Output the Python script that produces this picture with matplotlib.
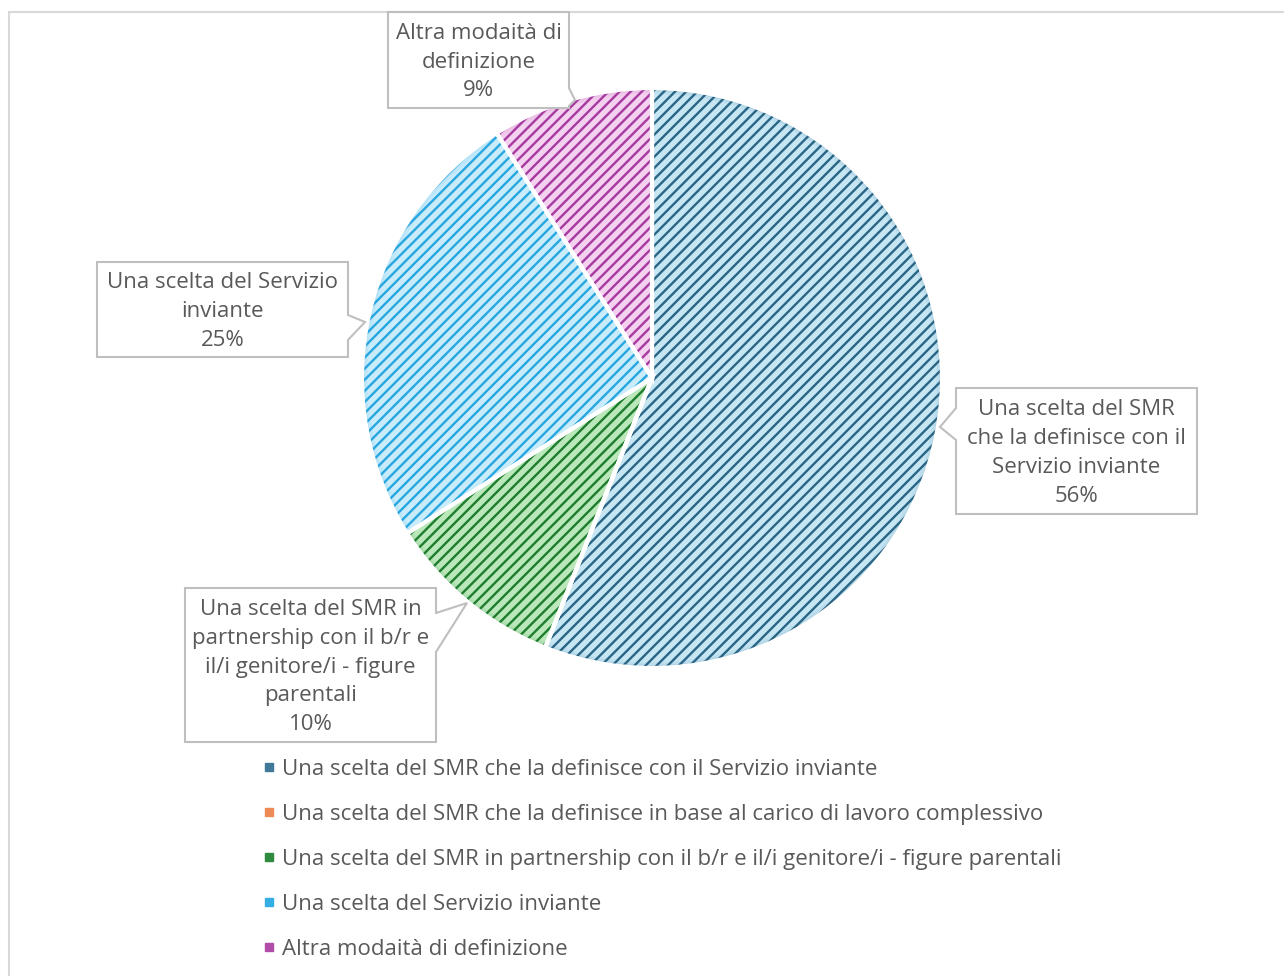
import matplotlib
matplotlib.use("Agg")
import matplotlib.pyplot as plt
from matplotlib.patches import Rectangle, Polygon, Wedge
from matplotlib.lines import Line2D

# ---- data ---------------------------------------------------------------
categories = [
    "Una scelta del SMR che la definisce con il Servizio inviante",
    "Una scelta del SMR che la definisce in base al carico di lavoro complessivo",
    "Una scelta del SMR in partnership con il b/r e il/i genitore/i - figure parentali",
    "Una scelta del Servizio inviante",
    "Altra modaità di definizione",
]
shares = [56, 0, 10, 25, 9]
callout_texts = [
    "Una scelta del SMR\nche la definisce con il\nServizio inviante",
    None,
    "Una scelta del SMR in\npartnership con il b/r e\nil/i genitore/i - figure\nparentali",
    "Una scelta del Servizio\ninviante",
    "Altra modaità di\ndefinizione",
]

# ---- styling ------------------------------------------------------------
face_colors = ["#c6e6f4", "#fbd9c6", "#bae8ba", "#c9ecfb", "#f3d1ef"]
hatch_colors = ["#2a6585", "#e8742f", "#1f7d2f", "#28a6e0", "#a63aa0"]
legend_colors = ["#3f7898", "#ee8a55", "#2e8a3d", "#35aee4", "#b04da9"]
text_color = "#595959"
box_edge = "#bfbfbf"
FONT = "Open Sans"
FS = 16

W, H = 1284, 976
plt.rcParams["hatch.linewidth"] = 1.7
plt.rcParams["font.family"] = [FONT, "DejaVu Sans"]

fig = plt.figure(figsize=(W / 100, H / 100), dpi=100)
ax = fig.add_axes([0, 0, 1, 1])


def py(y):
    """Convert a top-down pixel row into the y-up axis coordinate."""
    return H - y


cx, cy, R = 652, py(378), 290

# chart area frame
ax.add_patch(Rectangle((8.5, py(H + 20)), W + 20, (H + 20) - 11.5,
                       facecolor="white", edgecolor="#d9d9d9", linewidth=1.5,
                       zorder=0))

# hatched fill layer
wedges, _ = ax.pie(shares, startangle=90, counterclock=False,
                   center=(cx, cy), radius=R, colors=face_colors,
                   wedgeprops=dict(linewidth=0))
for w, hc in zip(wedges, hatch_colors):
    w.set_hatch("///")
    w.set_edgecolor(hc)
    w.set_linewidth(0)
    w.set_zorder(2)
    # soft darker rim along the outer edge of each slice
    for k, a in enumerate([0.22, 0.14, 0.08, 0.04]):
        ax.add_patch(Wedge((cx, cy), R - 1.5 * k, w.theta1, w.theta2,
                           width=1.5, facecolor=hc, edgecolor="none",
                           alpha=a, zorder=2.5))

# white separators on top
outline, _ = ax.pie(shares, startangle=90, counterclock=False,
                    center=(cx, cy), radius=R,
                    wedgeprops=dict(linewidth=3, edgecolor="white",
                                    facecolor="none"))
for w in outline:
    w.set_zorder(3)


def callout(box, side, base, tip):
    """Rectangle with a wedge pointer on one side (pixel coords, y down)."""
    x0, y0, x1, y1 = box
    b0, b1 = base
    if side == "right":
        pts = [(x0, y0), (x1, y0), (x1, b0), tip, (x1, b1), (x1, y1), (x0, y1)]
    else:  # left
        pts = [(x0, y0), (x1, y0), (x1, y1), (x0, y1), (x0, b1), tip, (x0, b0)]
    pts = [(x, py(y)) for x, y in pts]
    ax.add_patch(Polygon(pts, closed=True, facecolor="white",
                         edgecolor=box_edge, linewidth=1.5, zorder=5))
    return (x0 + x1) / 2, py((y0 + y1) / 2)


layouts = {
    0: dict(box=(956, 388, 1197, 514), side="left", base=(408, 440), tip=(940, 427)),
    2: dict(box=(185, 588, 436, 742), side="right", base=(613, 652), tip=(467, 603)),
    3: dict(box=(97, 262, 348, 357), side="right", base=(315, 340), tip=(365, 322)),
    4: dict(box=(388, 12, 569, 108), side="right", base=(88, 106), tip=(575, 100)),
}
for i, spec in layouts.items():
    tx, ty = callout(**spec)
    ax.text(tx, ty - 2, f"{callout_texts[i]}\n{shares[i]}%", ha="center",
            va="center", fontsize=FS, color=text_color, linespacing=1.49,
            zorder=6)

handles = [Line2D([], [], marker="s", linestyle="none", markersize=6,
                  markerfacecolor=c, markeredgecolor=c) for c in legend_colors]
ax.legend(handles, categories, loc="upper left",
          bbox_to_anchor=(263 / W, 1 - 759 / H), frameon=False,
          fontsize=FS, labelcolor=text_color, handlelength=0.5,
          handletextpad=0.35, labelspacing=1.08, borderpad=0, borderaxespad=0)

ax.set_xlim(0, W)
ax.set_ylim(0, H)
ax.set_aspect("auto")
ax.axis("off")

fig.savefig("out.png", dpi=100, facecolor="white")
